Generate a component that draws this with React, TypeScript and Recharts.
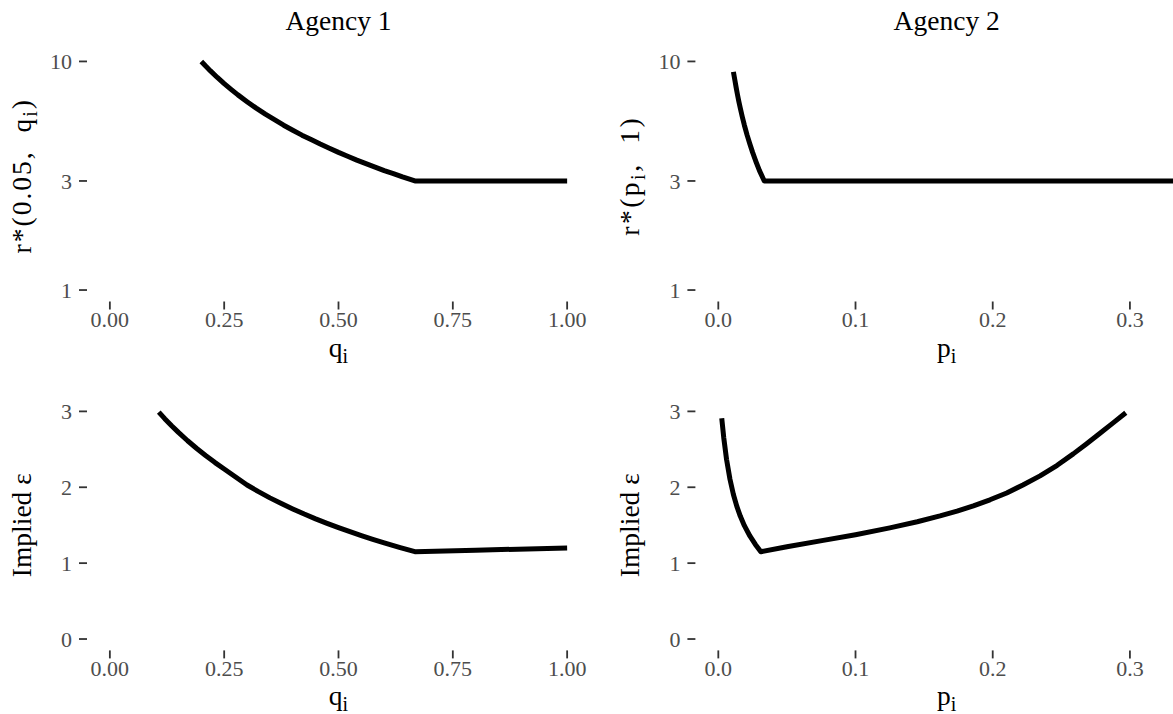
import React from 'react';
import { LineChart, Line, XAxis, YAxis } from 'recharts';

const SERIF = '"Liberation Serif", "Times New Roman", serif';

// Agency 1, top: r*(0.05, q_i) on a log axis
const agency1Q = [0.2, 0.21, 0.22, 0.235, 0.25, 0.265, 0.28, 0.3, 0.32, 0.34, 0.36, 0.38, 0.4, 0.42, 0.44, 0.46, 0.48, 0.5, 0.52, 0.54, 0.56, 0.58, 0.6, 0.62, 0.64, 0.667, 0.8, 1.0];
const agency1R = [10, 9.52, 9.09, 8.51, 8.0, 7.55, 7.14, 6.67, 6.25, 5.88, 5.56, 5.26, 5.0, 4.76, 4.55, 4.35, 4.17, 4.0, 3.85, 3.7, 3.57, 3.45, 3.33, 3.23, 3.125, 3.0, 3.0, 3.0];

// Agency 1, bottom: implied epsilon
const agency1EpsQ = [0.107, 0.12, 0.135, 0.15, 0.17, 0.19, 0.21, 0.23, 0.25, 0.275, 0.3, 0.325, 0.35, 0.375, 0.4, 0.425, 0.45, 0.475, 0.5, 0.525, 0.55, 0.575, 0.6, 0.635, 0.667, 0.8, 1.0];
const agency1Eps = [2.99, 2.904, 2.811, 2.723, 2.613, 2.511, 2.415, 2.325, 2.24, 2.135, 2.03, 1.942, 1.86, 1.785, 1.714, 1.647, 1.584, 1.525, 1.468, 1.414, 1.363, 1.314, 1.268, 1.205, 1.151, 1.171, 1.2];

// Agency 2, top: r*(p_i, 1) on a log axis
const agency2P = [0.011, 0.012, 0.013, 0.014, 0.015, 0.016, 0.0175, 0.019, 0.021, 0.023, 0.025, 0.0275, 0.03, 0.0335, 0.1, 0.2, 0.335];
const agency2R = [9.0, 8.33, 7.69, 7.14, 6.67, 6.25, 5.71, 5.26, 4.76, 4.35, 4.0, 3.64, 3.33, 3.0, 3, 3, 3];

// Agency 2, bottom: implied epsilon
const agency2EpsP = [0.0025, 0.004, 0.006, 0.0085, 0.011, 0.0135, 0.016, 0.019, 0.023, 0.027, 0.031, 0.05, 0.0765, 0.1, 0.125, 0.145, 0.1616, 0.174, 0.1859, 0.198, 0.2102, 0.222, 0.2345, 0.247, 0.2587, 0.268, 0.2782, 0.288, 0.297];
const agency2Eps = [2.91, 2.648, 2.368, 2.105, 1.905, 1.748, 1.62, 1.494, 1.358, 1.246, 1.15, 1.215, 1.3, 1.375, 1.465, 1.545, 1.622, 1.685, 1.755, 1.835, 1.925, 2.03, 2.15, 2.29, 2.44, 2.567, 2.712, 2.852, 2.982];

const qTicks = [0, 0.25, 0.5, 0.75, 1];
const pTicks = [0, 0.1, 0.2, 0.3];
const rTicks = [1, 3, 10];
const epsTicks = [0, 1, 2, 3];

const toRows = (xs: number[], ys: number[]) => xs.map((x, i) => ({ x, y: ys[i] }));

const tickStyle = { fill: '#4D4D4D', fontSize: 22, fontFamily: SERIF };
const tickLineStyle = { stroke: '#333333', strokeWidth: 1.8 };

type Part = { text: string; sub?: boolean };

function MathText({ parts }: { parts: Part[] }) {
  const out: React.ReactNode[] = [];
  let shifted = false;
  parts.forEach((p, i) => {
    if (p.sub) {
      out.push(<tspan key={i} dy={6} fontSize={20}>{p.text}</tspan>);
      shifted = true;
    } else {
      out.push(<tspan key={i} dy={shifted ? -6 : 0}>{p.text}</tspan>);
      shifted = false;
    }
  });
  return <>{out}</>;
}

type PanelProps = {
  left: number;
  top: number;
  width: number;
  height: number;
  plotBottom: number;
  yAxisWidth: number;
  rows: { x: number; y: number }[];
  xDomain: [number, number];
  xTicks: number[];
  xDigits: number;
  yDomain: [number, number];
  yTicks: number[];
  yLog: boolean;
  xTitle: Part[];
  yTitle: Part[];
  yTitleSpacing: number;
  xTitleCenter: number;
  title?: string;
};

function Panel(p: PanelProps) {
  const marginTop = 50;
  const xAxisHeight = p.height - p.plotBottom;
  const yMid = (marginTop + p.plotBottom) / 2;
  const yTitleX = p.yAxisWidth - 56;
  return (
    <div style={{ position: 'absolute', left: p.left, top: p.top }}>
      <LineChart width={p.width} height={p.height} data={p.rows} margin={{ top: marginTop, right: 0, bottom: 0, left: 0 }}>
        <XAxis
          type="number"
          dataKey="x"
          domain={p.xDomain}
          ticks={p.xTicks}
          interval={0}
          allowDataOverflow
          height={xAxisHeight}
          axisLine={false}
          tickLine={tickLineStyle}
          tickSize={8}
          tickMargin={2}
          tick={tickStyle}
          tickFormatter={(v: number) => v.toFixed(p.xDigits)}
        />
        <YAxis
          type="number"
          scale={p.yLog ? 'log' : 'linear'}
          domain={p.yDomain}
          ticks={p.yTicks}
          interval={0}
          allowDataOverflow
          width={p.yAxisWidth}
          axisLine={false}
          tickLine={tickLineStyle}
          tickSize={8}
          tickMargin={7}
          tick={tickStyle}
        />
        <Line
          type="linear"
          dataKey="y"
          stroke="#000000"
          strokeWidth={5}
          strokeLinejoin="round"
          strokeLinecap="butt"
          dot={false}
          isAnimationActive={false}
        />
        <text x={p.xTitleCenter} y={p.plotBottom + 55} textAnchor="middle" fontFamily={SERIF} fontSize={27.5} fill="#000">
          <MathText parts={p.xTitle} />
        </text>
        <text
          x={yTitleX}
          y={yMid}
          transform={`rotate(-90, ${yTitleX}, ${yMid})`}
          textAnchor="middle"
          fontFamily={SERIF}
          fontSize={27.5}
          letterSpacing={p.yTitleSpacing}
          fill="#000"
        >
          <MathText parts={p.yTitle} />
        </text>
        {p.title ? (
          <text x={p.xTitleCenter} y={29.5} textAnchor="middle" fontFamily={SERIF} fontSize={27.5} fill="#000">
            {p.title}
          </text>
        ) : null}
      </LineChart>
    </div>
  );
}

export default function App() {
  const leftX: [number, number] = [-0.05, 1.05];
  const rightX: [number, number] = [-0.0167, 0.3314];
  const logY: [number, number] = [0.891, 11.22];
  const epsY: [number, number] = [-0.15, 3.15];
  return (
    <div style={{ position: 'absolute', left: 0, top: 0, width: 1173, height: 714, background: '#fff', overflow: 'hidden' }}>
      <Panel
        left={0} top={0} width={590} height={372} plotBottom={301.5} yAxisWidth={87}
        rows={toRows(agency1Q, agency1R)}
        xDomain={leftX} xTicks={qTicks} xDigits={2}
        yDomain={logY} yTicks={rTicks} yLog
        xTitle={[{ text: 'q' }, { text: 'i', sub: true }]}
        yTitle={[{ text: 'r*(0.05,\u00A0 q' }, { text: 'i', sub: true }, { text: ')' }]}
        yTitleSpacing={2}
        xTitleCenter={338.5}
        title="Agency 1"
      />
      <Panel
        left={600} top={0} width={573} height={372} plotBottom={301.5} yAxisWidth={95.4}
        rows={toRows(agency2P, agency2R)}
        xDomain={rightX} xTicks={pTicks} xDigits={1}
        yDomain={logY} yTicks={rTicks} yLog
        xTitle={[{ text: 'p' }, { text: 'i', sub: true }]}
        yTitle={[{ text: 'r*(p' }, { text: 'i', sub: true }, { text: ',\u00A0 1)' }]}
        yTitleSpacing={2.5}
        xTitleCenter={346.7}
        title="Agency 2"
      />
      <Panel
        left={0} top={350} width={590} height={364} plotBottom={300.4} yAxisWidth={87}
        rows={toRows(agency1EpsQ, agency1Eps)}
        xDomain={leftX} xTicks={qTicks} xDigits={2}
        yDomain={epsY} yTicks={epsTicks} yLog={false}
        xTitle={[{ text: 'q' }, { text: 'i', sub: true }]}
        yTitle={[{ text: 'Implied ε' }]}
        yTitleSpacing={0}
        xTitleCenter={338.5}
      />
      <Panel
        left={600} top={350} width={573} height={364} plotBottom={300.4} yAxisWidth={95.4}
        rows={toRows(agency2EpsP, agency2Eps)}
        xDomain={rightX} xTicks={pTicks} xDigits={1}
        yDomain={epsY} yTicks={epsTicks} yLog={false}
        xTitle={[{ text: 'p' }, { text: 'i', sub: true }]}
        yTitle={[{ text: 'Implied ε' }]}
        yTitleSpacing={0}
        xTitleCenter={346.7}
      />
    </div>
  );
}
